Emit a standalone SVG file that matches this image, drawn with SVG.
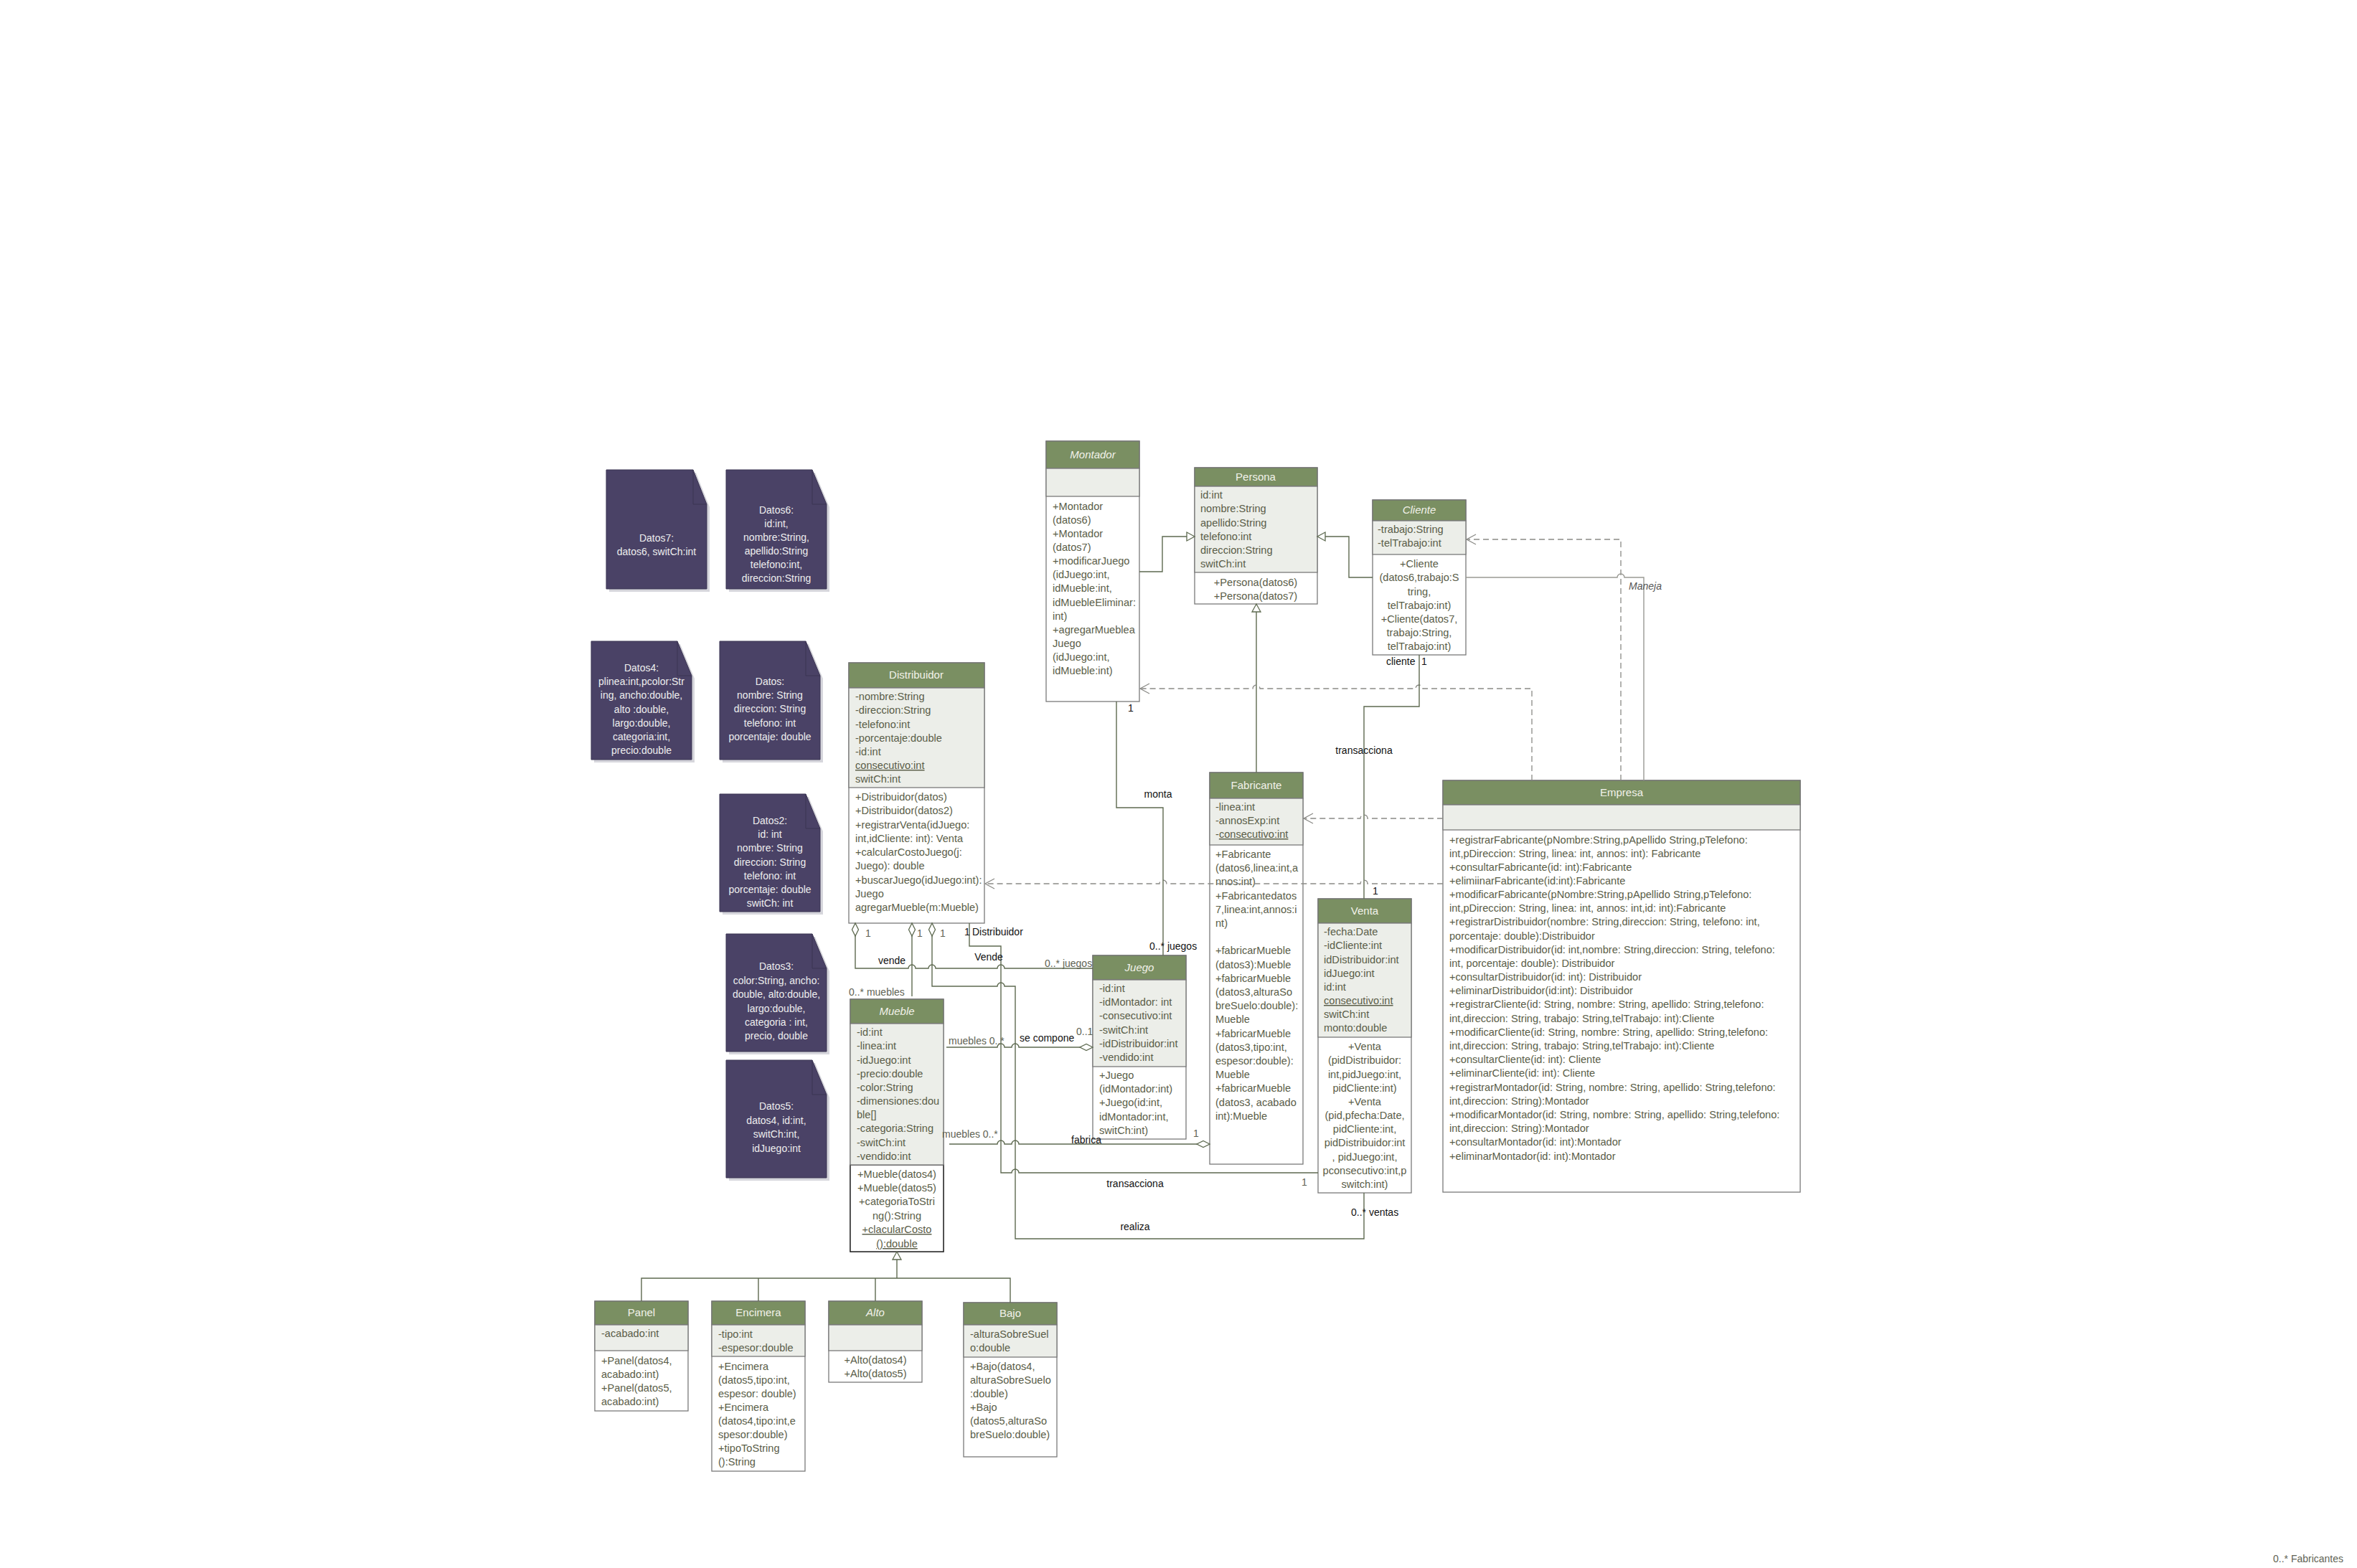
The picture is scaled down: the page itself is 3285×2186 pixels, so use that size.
<svg xmlns="http://www.w3.org/2000/svg" width="3285" height="2186" viewBox="0 0 3285 2186">
<style>
text{font-family:"Liberation Sans",Arial,sans-serif;font-size:14px}
.box{fill:#ffffff;stroke:#7a7a7a;stroke-width:1.3}
.hdr{fill:#7a8f62;stroke:#737373;stroke-width:1.3}
.att{fill:#eceee9;stroke:#7a7a7a;stroke-width:1.3}
.t{fill:#5a5d48;font-size:14.6px}
.h{fill:#f2f2ea;font-size:15px;text-anchor:middle}
.i{font-style:italic}
.c{text-anchor:middle}
.lb{fill:#111111}
.lg{fill:#5f6354}
.note{fill:#4a4266;stroke:#3b3452;stroke-width:1}
.shadow{fill:#d6d6dc}
.fold{fill:none;stroke:#3b3452;stroke-width:1}
.nt{fill:#eeeeee;text-anchor:middle;font-size:14px}
.ln{fill:none;stroke:#5e6a50;stroke-width:1.4}
.lt{fill:none;stroke:#9a9a94;stroke-width:1.4}
.ds{fill:none;stroke:#8a8a86;stroke-width:1.3;stroke-dasharray:8 5}
</style>
<defs>
<marker id="open" markerUnits="userSpaceOnUse" orient="auto" overflow="visible" markerWidth="1" markerHeight="1"><path d="M-13,-7 L0,0 L-13,7" fill="none" stroke="#8a8a86" stroke-width="1.3"/></marker>
<marker id="tri" markerUnits="userSpaceOnUse" orient="auto" overflow="visible" markerWidth="1" markerHeight="1"><path d="M0,0 L-11,-6 L-11,6 Z" fill="#ffffff" stroke="#5e6a50" stroke-width="1.3"/></marker>
<marker id="dia" markerUnits="userSpaceOnUse" orient="auto-start-reverse" overflow="visible" markerWidth="1" markerHeight="1"><path d="M0,0 L-9,-4.5 L-18,0 L-9,4.5 Z" fill="#ffffff" stroke="#5e6a50" stroke-width="1.3"/></marker>
</defs>

<!-- Notes -->
<g id="datos7">
<polygon class="shadow" points="849,659 970,659 989,707 989,825 849,825"/>
<polygon class="note" points="845,655 966,655 985,703 985,821 845,821"/>
<path class="fold" d="M966,655 V703 H985"/>
<text class="nt"><tspan x="915" y="755">Datos7:</tspan><tspan x="915" y="774">datos6, switCh:int</tspan></text>
</g>
<g id="datos6">
<polygon class="shadow" points="1016,659 1136,659 1156,707 1156,825 1016,825"/>
<polygon class="note" points="1012,655 1132,655 1152,703 1152,821 1012,821"/>
<path class="fold" d="M1132,655 V703 H1152"/>
<text class="nt"><tspan x="1082" y="716">Datos6:</tspan><tspan x="1082" y="735">id:int,</tspan><tspan x="1082" y="754">nombre:String,</tspan><tspan x="1082" y="773">apellido:String</tspan><tspan x="1082" y="792">telefono:int,</tspan><tspan x="1082" y="811">direccion:String</tspan></text>
</g>
<g id="datos4">
<polygon class="shadow" points="828,898 948,898 968,946 968,1063 828,1063"/>
<polygon class="note" points="824,894 944,894 964,942 964,1059 824,1059"/>
<path class="fold" d="M944,894 V942 H964"/>
<text class="nt"><tspan x="894" y="936">Datos4:</tspan><tspan x="894" y="955">plinea:int,pcolor:Str</tspan><tspan x="894" y="974">ing, ancho:double,</tspan><tspan x="894" y="994">alto :double,</tspan><tspan x="894" y="1013">largo:double,</tspan><tspan x="894" y="1032">categoria:int,</tspan><tspan x="894" y="1051">precio:double</tspan></text>
</g>
<g id="datos">
<polygon class="shadow" points="1007,898 1127,898 1147,946 1147,1063 1007,1063"/>
<polygon class="note" points="1003,894 1123,894 1143,942 1143,1059 1003,1059"/>
<path class="fold" d="M1123,894 V942 H1143"/>
<text class="nt"><tspan x="1073" y="955">Datos:</tspan><tspan x="1073" y="974">nombre: String</tspan><tspan x="1073" y="993">direccion: String</tspan><tspan x="1073" y="1013">telefono: int</tspan><tspan x="1073" y="1032">porcentaje: double</tspan></text>
</g>
<g id="datos2">
<polygon class="shadow" points="1007,1111 1127,1111 1147,1159 1147,1275 1007,1275"/>
<polygon class="note" points="1003,1107 1123,1107 1143,1155 1143,1271 1003,1271"/>
<path class="fold" d="M1123,1107 V1155 H1143"/>
<text class="nt"><tspan x="1073" y="1149">Datos2:</tspan><tspan x="1073" y="1168">id: int</tspan><tspan x="1073" y="1187">nombre: String</tspan><tspan x="1073" y="1207">direccion: String</tspan><tspan x="1073" y="1226">telefono: int</tspan><tspan x="1073" y="1245">porcentaje: double</tspan><tspan x="1073" y="1264">switCh: int</tspan></text>
</g>
<g id="datos3">
<polygon class="shadow" points="1016,1306 1136,1306 1156,1354 1156,1470 1016,1470"/>
<polygon class="note" points="1012,1302 1132,1302 1152,1350 1152,1466 1012,1466"/>
<path class="fold" d="M1132,1302 V1350 H1152"/>
<text class="nt"><tspan x="1082" y="1352">Datos3:</tspan><tspan x="1082" y="1372">color:String, ancho:</tspan><tspan x="1082" y="1391">double, alto:double,</tspan><tspan x="1082" y="1411">largo:double,</tspan><tspan x="1082" y="1430">categoria : int,</tspan><tspan x="1082" y="1449">precio, double</tspan></text>
</g>
<g id="datos5">
<polygon class="shadow" points="1016,1482 1136,1482 1156,1530 1156,1646 1016,1646"/>
<polygon class="note" points="1012,1478 1132,1478 1152,1526 1152,1642 1012,1642"/>
<path class="fold" d="M1132,1478 V1526 H1152"/>
<text class="nt"><tspan x="1082" y="1547">Datos5:</tspan><tspan x="1082" y="1567">datos4, id:int,</tspan><tspan x="1082" y="1586">switCh:int,</tspan><tspan x="1082" y="1606">idJuego:int</tspan></text>
</g>

<!-- Classes -->
<g id="montador">
<rect class="box" x="1458" y="615" width="130" height="363"/>
<rect class="hdr" x="1458" y="615" width="130" height="38"/>
<rect class="att" x="1458" y="653" width="130" height="39"/>
<text class="h i" x="1523" y="639">Montador</text>
<text class="t"><tspan x="1467" y="711">+Montador</tspan><tspan x="1467" y="730">(datos6)</tspan><tspan x="1467" y="749">+Montador</tspan><tspan x="1467" y="768">(datos7)</tspan><tspan x="1467" y="787">+modificarJuego</tspan><tspan x="1467" y="806">(idJuego:int,</tspan><tspan x="1467" y="825">idMueble:int,</tspan><tspan x="1467" y="845">idMuebleEliminar:</tspan><tspan x="1467" y="864">int)</tspan><tspan x="1467" y="883">+agregarMueblea</tspan><tspan x="1467" y="902">Juego</tspan><tspan x="1467" y="921">(idJuego:int,</tspan><tspan x="1467" y="940">idMueble:int)</tspan></text>
</g>
<g id="persona">
<rect class="box" x="1665" y="652" width="171" height="190"/>
<rect class="hdr" x="1665" y="652" width="171" height="26"/>
<rect class="att" x="1665" y="678" width="171" height="120"/>
<text class="h" x="1750" y="670">Persona</text>
<text class="t"><tspan x="1673" y="695">id:int</tspan><tspan x="1673" y="714">nombre:String</tspan><tspan x="1673" y="734">apellido:String</tspan><tspan x="1673" y="753">telefono:int</tspan><tspan x="1673" y="772">direccion:String</tspan><tspan x="1673" y="791">switCh:int</tspan></text>
<text class="t c"><tspan x="1750" y="817">+Persona(datos6)</tspan><tspan x="1750" y="836">+Persona(datos7)</tspan></text>
</g>
<g id="cliente">
<rect class="box" x="1913" y="697" width="130" height="216"/>
<rect class="hdr" x="1913" y="697" width="130" height="29"/>
<rect class="att" x="1913" y="726" width="130" height="47"/>
<text class="h i" x="1978" y="716">Cliente</text>
<text class="t"><tspan x="1920" y="743">-trabajo:String</tspan><tspan x="1920" y="762">-telTrabajo:int</tspan></text>
<text class="t c"><tspan x="1978" y="791">+Cliente</tspan><tspan x="1978" y="810">(datos6,trabajo:S</tspan><tspan x="1978" y="830">tring,</tspan><tspan x="1978" y="849">telTrabajo:int)</tspan><tspan x="1978" y="868">+Cliente(datos7,</tspan><tspan x="1978" y="887">trabajo:String,</tspan><tspan x="1978" y="906">telTrabajo:int)</tspan></text>
</g>
<g id="distribuidor">
<rect class="box" x="1183" y="924" width="189" height="363"/>
<rect class="hdr" x="1183" y="924" width="189" height="35"/>
<rect class="att" x="1183" y="959" width="189" height="139"/>
<text class="h" x="1277" y="946">Distribuidor</text>
<text class="t"><tspan x="1192" y="976">-nombre:String</tspan><tspan x="1192" y="995">-direccion:String</tspan><tspan x="1192" y="1015">-telefono:int</tspan><tspan x="1192" y="1034">-porcentaje:double</tspan><tspan x="1192" y="1053">-id:int</tspan><tspan x="1192" y="1072" text-decoration="underline">consecutivo:int</tspan><tspan x="1192" y="1091">switCh:int</tspan></text>
<text class="t"><tspan x="1192" y="1116">+Distribuidor(datos)</tspan><tspan x="1192" y="1135">+Distribuidor(datos2)</tspan><tspan x="1192" y="1155">+registrarVenta(idJuego:</tspan><tspan x="1192" y="1174">int,idCliente: int): Venta</tspan><tspan x="1192" y="1193">+calcularCostoJuego(j:</tspan><tspan x="1192" y="1212">Juego): double</tspan><tspan x="1192" y="1232">+buscarJuego(idJuego:int):</tspan><tspan x="1192" y="1251">Juego</tspan><tspan x="1192" y="1270">agregarMueble(m:Mueble)</tspan></text>
</g>
<g id="fabricante">
<rect class="box" x="1686" y="1077" width="130" height="546"/>
<rect class="hdr" x="1686" y="1077" width="130" height="36"/>
<rect class="att" x="1686" y="1113" width="130" height="65"/>
<text class="h" x="1751" y="1100">Fabricante</text>
<text class="t"><tspan x="1694" y="1130">-linea:int</tspan><tspan x="1694" y="1149">-annosExp:int</tspan><tspan x="1694" y="1168">-</tspan><tspan text-decoration="underline">consecutivo:int</tspan></text>
<text class="t"><tspan x="1694" y="1196">+Fabricante</tspan><tspan x="1694" y="1215">(datos6,linea:int,a</tspan><tspan x="1694" y="1234">nnos:int)</tspan><tspan x="1694" y="1254">+Fabricantedatos</tspan><tspan x="1694" y="1273">7,linea:int,annos:i</tspan><tspan x="1694" y="1292">nt)</tspan><tspan x="1694" y="1330">+fabricarMueble</tspan><tspan x="1694" y="1350">(datos3):Mueble</tspan><tspan x="1694" y="1369">+fabricarMueble</tspan><tspan x="1694" y="1388">(datos3,alturaSo</tspan><tspan x="1694" y="1407">breSuelo:double):</tspan><tspan x="1694" y="1426">Mueble</tspan><tspan x="1694" y="1446">+fabricarMueble</tspan><tspan x="1694" y="1465">(datos3,tipo:int,</tspan><tspan x="1694" y="1484">espesor:double):</tspan><tspan x="1694" y="1503">Mueble</tspan><tspan x="1694" y="1522">+fabricarMueble</tspan><tspan x="1694" y="1542">(datos3, acabado</tspan><tspan x="1694" y="1561">int):Mueble</tspan></text>
</g>
<g id="venta">
<rect class="box" x="1837" y="1253" width="130" height="410"/>
<rect class="hdr" x="1837" y="1253" width="130" height="34"/>
<rect class="att" x="1837" y="1287" width="130" height="159"/>
<text class="h" x="1902" y="1275">Venta</text>
<text class="t"><tspan x="1845" y="1304">-fecha:Date</tspan><tspan x="1845" y="1323">-idCliente:int</tspan><tspan x="1845" y="1343">idDistribuidor:int</tspan><tspan x="1845" y="1362">idJuego:int</tspan><tspan x="1845" y="1381">id:int</tspan><tspan x="1845" y="1400" text-decoration="underline">consecutivo:int</tspan><tspan x="1845" y="1419">switCh:int</tspan><tspan x="1845" y="1438">monto:double</tspan></text>
<text class="t c"><tspan x="1902" y="1464">+Venta</tspan><tspan x="1902" y="1483">(pidDistribuidor:</tspan><tspan x="1902" y="1503">int,pidJuego:int,</tspan><tspan x="1902" y="1522">pidCliente:int)</tspan><tspan x="1902" y="1541">+Venta</tspan><tspan x="1902" y="1560">(pid,pfecha:Date,</tspan><tspan x="1902" y="1579">pidCliente:int,</tspan><tspan x="1902" y="1598">pidDistribuidor:int</tspan><tspan x="1902" y="1618">, pidJuego:int,</tspan><tspan x="1902" y="1637">pconsecutivo:int,p</tspan><tspan x="1902" y="1656">switch:int)</tspan></text>
</g>
<g id="empresa">
<rect class="box" x="2011" y="1088" width="498" height="574"/>
<rect class="hdr" x="2011" y="1088" width="498" height="34"/>
<rect class="att" x="2011" y="1122" width="498" height="35"/>
<text class="h" x="2260" y="1110">Empresa</text>
<text class="t"><tspan x="2020" y="1176">+registrarFabricante(pNombre:String,pApellido String,pTelefono:</tspan><tspan x="2020" y="1195">int,pDireccion: String, linea: int, annos: int): Fabricante</tspan><tspan x="2020" y="1214">+consultarFabricante(id: int):Fabricante</tspan><tspan x="2020" y="1233">+elimiinarFabricante(id:int):Fabricante</tspan><tspan x="2020" y="1252">+modificarFabricante(pNombre:String,pApellido String,pTelefono:</tspan><tspan x="2020" y="1271">int,pDireccion: String, linea: int, annos: int,id: int):Fabricante</tspan><tspan x="2020" y="1290">+registrarDistribuidor(nombre: String,direccion: String, telefono: int,</tspan><tspan x="2020" y="1310">porcentaje: double):Distribuidor</tspan><tspan x="2020" y="1329">+modificarDistribuidor(id: int,nombre: String,direccion: String, telefono:</tspan><tspan x="2020" y="1348">int, porcentaje: double): Distribuidor</tspan><tspan x="2020" y="1367">+consultarDistribuidor(id: int): Distribuidor</tspan><tspan x="2020" y="1386">+eliminarDistribuidor(id:int): Distribuidor</tspan><tspan x="2020" y="1405">+registrarCliente(id: String, nombre: String, apellido: String,telefono:</tspan><tspan x="2020" y="1425">int,direccion: String, trabajo: String,telTrabajo: int):Cliente</tspan><tspan x="2020" y="1444">+modificarCliente(id: String, nombre: String, apellido: String,telefono:</tspan><tspan x="2020" y="1463">int,direccion: String, trabajo: String,telTrabajo: int):Cliente</tspan><tspan x="2020" y="1482">+consultarCliente(id: int): Cliente</tspan><tspan x="2020" y="1501">+eliminarCliente(id: int): Cliente</tspan><tspan x="2020" y="1521">+registrarMontador(id: String, nombre: String, apellido: String,telefono:</tspan><tspan x="2020" y="1540">int,direccion: String):Montador</tspan><tspan x="2020" y="1559">+modificarMontador(id: String, nombre: String, apellido: String,telefono:</tspan><tspan x="2020" y="1578">int,direccion: String):Montador</tspan><tspan x="2020" y="1597">+consultarMontador(id: int):Montador</tspan><tspan x="2020" y="1617">+eliminarMontador(id: int):Montador</tspan></text>
</g>
<g id="juego">
<rect class="box" x="1523" y="1332" width="130" height="256"/>
<rect class="hdr" x="1523" y="1332" width="130" height="34"/>
<rect class="att" x="1523" y="1366" width="130" height="121"/>
<text class="h i" x="1588" y="1354">Juego</text>
<text class="t"><tspan x="1532" y="1383">-id:int</tspan><tspan x="1532" y="1402">-idMontador: int</tspan><tspan x="1532" y="1421">-consecutivo:int</tspan><tspan x="1532" y="1441">-switCh:int</tspan><tspan x="1532" y="1460">-idDistribuidor:int</tspan><tspan x="1532" y="1479">-vendido:int</tspan></text>
<text class="t"><tspan x="1532" y="1504">+Juego</tspan><tspan x="1532" y="1523">(idMontador:int)</tspan><tspan x="1532" y="1542">+Juego(id:int,</tspan><tspan x="1532" y="1562">idMontador:int,</tspan><tspan x="1532" y="1581">switCh:int)</tspan></text>
</g>
<g id="mueble">
<rect class="box" x="1185" y="1393" width="130" height="352"/>
<rect x="1185" y="1624" width="130" height="121" fill="#ffffff" stroke="#1a1a1a" stroke-width="1.4"/>
<rect class="hdr" x="1185" y="1393" width="130" height="34"/>
<rect class="att" x="1185" y="1427" width="130" height="197"/>
<text class="h i" x="1250" y="1415">Mueble</text>
<text class="t"><tspan x="1194" y="1444">-id:int</tspan><tspan x="1194" y="1463">-linea:int</tspan><tspan x="1194" y="1483">-idJuego:int</tspan><tspan x="1194" y="1502">-precio:double</tspan><tspan x="1194" y="1521">-color:String</tspan><tspan x="1194" y="1540">-dimensiones:dou</tspan><tspan x="1194" y="1559">ble[]</tspan><tspan x="1194" y="1578">-categoria:String</tspan><tspan x="1194" y="1598">-switCh:int</tspan><tspan x="1194" y="1617">-vendido:int</tspan></text>
<text class="t c"><tspan x="1250" y="1642">+Mueble(datos4)</tspan><tspan x="1250" y="1661">+Mueble(datos5)</tspan><tspan x="1250" y="1680">+categoriaToStri</tspan><tspan x="1250" y="1700">ng():String</tspan><tspan x="1250" y="1719" text-decoration="underline">+clacularCosto</tspan><tspan x="1250" y="1739" text-decoration="underline">():double</tspan></text>
</g>
<g id="panel">
<rect class="box" x="829" y="1814" width="130" height="153"/>
<rect class="hdr" x="829" y="1814" width="130" height="33"/>
<rect class="att" x="829" y="1847" width="130" height="36"/>
<text class="h" x="894" y="1835">Panel</text>
<text class="t"><tspan x="838" y="1864">-acabado:int</tspan></text>
<text class="t"><tspan x="838" y="1902">+Panel(datos4,</tspan><tspan x="838" y="1921">acabado:int)</tspan><tspan x="838" y="1940">+Panel(datos5,</tspan><tspan x="838" y="1959">acabado:int)</tspan></text>
</g>
<g id="encimera">
<rect class="box" x="992" y="1814" width="130" height="237"/>
<rect class="hdr" x="992" y="1814" width="130" height="33"/>
<rect class="att" x="992" y="1847" width="130" height="44"/>
<text class="h" x="1057" y="1835">Encimera</text>
<text class="t"><tspan x="1001" y="1865">-tipo:int</tspan><tspan x="1001" y="1884">-espesor:double</tspan></text>
<text class="t"><tspan x="1001" y="1910">+Encimera</tspan><tspan x="1001" y="1929">(datos5,tipo:int,</tspan><tspan x="1001" y="1948">espesor: double)</tspan><tspan x="1001" y="1967">+Encimera</tspan><tspan x="1001" y="1986">(datos4,tipo:int,e</tspan><tspan x="1001" y="2005">spesor:double)</tspan><tspan x="1001" y="2024">+tipoToString</tspan><tspan x="1001" y="2043">():String</tspan></text>
</g>
<g id="alto">
<rect class="box" x="1155" y="1814" width="130" height="113"/>
<rect class="hdr" x="1155" y="1814" width="130" height="33"/>
<rect class="att" x="1155" y="1847" width="130" height="36"/>
<text class="h i" x="1220" y="1835">Alto</text>
<text class="t c"><tspan x="1220" y="1901">+Alto(datos4)</tspan><tspan x="1220" y="1920">+Alto(datos5)</tspan></text>
</g>
<g id="bajo">
<rect class="box" x="1343" y="1816" width="130" height="215"/>
<rect class="hdr" x="1343" y="1816" width="130" height="31"/>
<rect class="att" x="1343" y="1847" width="130" height="45"/>
<text class="h" x="1408" y="1836">Bajo</text>
<text class="t"><tspan x="1352" y="1865">-alturaSobreSuel</tspan><tspan x="1352" y="1884">o:double</tspan></text>
<text class="t"><tspan x="1352" y="1910">+Bajo(datos4,</tspan><tspan x="1352" y="1929">alturaSobreSuelo</tspan><tspan x="1352" y="1948">:double)</tspan><tspan x="1352" y="1967">+Bajo</tspan><tspan x="1352" y="1986">(datos5,alturaSo</tspan><tspan x="1352" y="2005">breSuelo:double)</tspan></text>
</g>

<!-- Connectors -->
<g id="connectors">
<path class="ln" d="M1588,797 H1620 V748 H1665" marker-end="url(#tri)"/>
<path class="ln" d="M1913,805 H1880 V748 H1836" marker-end="url(#tri)"/>
<path class="ln" d="M1751,1077 V842" marker-end="url(#tri)"/>
<path class="ds" d="M2135,1088 V960 H1983 A5,5 0 0 0 1973,960 H1756 A5,5 0 0 0 1746,960 H1589" marker-end="url(#open)"/>
<path class="ds" d="M2259,1088 V752 H2044" marker-end="url(#open)"/>
<path class="lt" d="M2043,805 H2254 A5,5 0 0 1 2264,805 H2291 V1088"/>
<path class="ds" d="M2011,1141 H1906 A5,5 0 0 0 1896,1141 H1817" marker-end="url(#open)"/>
<path class="ds" d="M2011,1232 H1906 A5,5 0 0 0 1896,1232 H1626 A5,5 0 0 0 1616,1232 H1373" marker-end="url(#open)"/>
<path class="ln" d="M1978,913 V985 H1901 V1253"/>
<path class="ln" d="M1556,978 V1126 H1621 V1332"/>
<path class="ln" d="M1192,1287 V1350 H1266 A5,5 0 0 1 1276,1350 H1294 A5,5 0 0 1 1304,1350 H1390 A5,5 0 0 1 1400,1350 H1523" marker-start="url(#dia)"/>
<path class="ln" d="M1271,1287 V1389" marker-start="url(#dia)"/>
<path class="ln" d="M1299,1287 V1375 H1390 A5,5 0 0 1 1400,1375 H1415 V1727 H1901 V1663" marker-start="url(#dia)"/>
<path class="ln" d="M1351,1287 V1319 H1395 V1635 H1410 A5,5 0 0 1 1420,1635 H1837"/>
<path class="ln" d="M1319,1460 H1390 A5,5 0 0 1 1400,1460 H1410 A5,5 0 0 1 1420,1460 H1523" marker-end="url(#dia)"/>
<path class="ln" d="M1323,1595 H1390 A5,5 0 0 1 1400,1595 H1410 A5,5 0 0 1 1420,1595 H1686" marker-end="url(#dia)"/>
<path class="ln" d="M894,1814 V1782 H1408 V1816 M1057,1782 V1814 M1220,1782 V1814"/>
<path class="ln" d="M1250,1782 V1745" marker-end="url(#tri)"/>

<text class="lb" x="1576" y="992" text-anchor="middle">1</text>
<text class="lb" x="1614" y="1112" text-anchor="middle">monta</text>
<text class="lb" x="1602" y="1324">0..* juegos</text>
<text class="lb" x="1932" y="927">cliente</text>
<text class="lb" x="1981" y="927">1</text>
<text class="lb" x="1901" y="1051" text-anchor="middle">transacciona</text>
<text class="lb" x="1917" y="1247" text-anchor="middle">1</text>
<text class="i" x="2270" y="822" fill="#555">Maneja</text>
<text class="lg" x="1206" y="1306">1</text>
<text class="lg" x="1278" y="1306">1</text>
<text class="lg" x="1310" y="1306">1</text>
<text class="lb" x="1344" y="1304">1</text>
<text class="lb" x="1355" y="1304">Distribuidor</text>
<text class="lb" x="1243" y="1344" text-anchor="middle">vende</text>
<text class="lb" x="1378" y="1339" text-anchor="middle">Vende</text>
<text class="lg" x="1456" y="1348">0..* juegos</text>
<text class="lg" x="1183" y="1388">0..* muebles</text>
<text class="lg" x="1322" y="1456">muebles 0..*</text>
<text class="lb" x="1421" y="1452">se compone</text>
<text class="lg" x="1500" y="1443">0..1</text>
<text class="lg" x="1313" y="1586">muebles 0..*</text>
<text class="lb" x="1493" y="1594">fabrica</text>
<text class="lg" x="1663" y="1585">1</text>
<text class="lb" x="1582" y="1655" text-anchor="middle">transacciona</text>
<text class="lg" x="1814" y="1653">1</text>
<text class="lb" x="1582" y="1715" text-anchor="middle">realiza</text>
<text class="lb" x="1883" y="1695">0..* ventas</text>
<text class="lg" x="3168" y="2178">0..* Fabricantes</text>
</g>
</svg>
